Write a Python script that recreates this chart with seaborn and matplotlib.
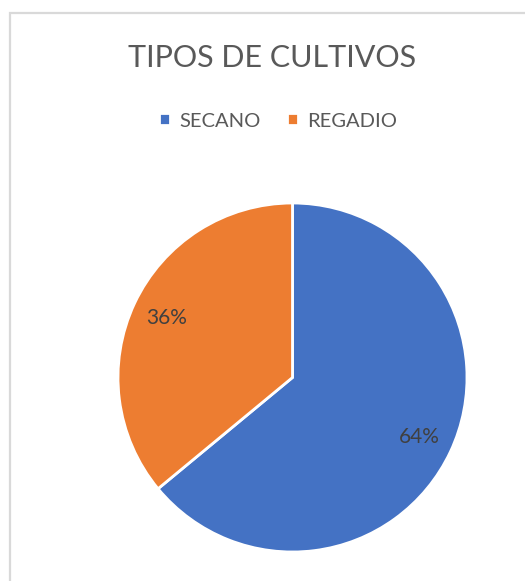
import matplotlib
matplotlib.use("Agg")
import matplotlib.pyplot as plt
import seaborn as sns
from matplotlib.patches import Rectangle

# data
categories = ["SECANO", "REGADIO"]
shares = [64, 36]
colors = ["#4472C4", "#ED7D31"]

sns.set_theme(style="white")
plt.rcParams["font.family"] = ["Lato", "DejaVu Sans"]

fig = plt.figure(figsize=(5.25, 5.81), dpi=100)

# light grey chart border (only left and top edges visible in the crop)
fig.patches.append(Rectangle((10 / 525, -0.2), 1.2, 1.2 - 13 / 581,
                             transform=fig.transFigure, fill=False,
                             edgecolor="#D9D9D9", linewidth=1.6))

ax = fig.add_axes([118 / 525, 29 / 581, 349 / 525, 349 / 581])
wedges, texts, autotexts = ax.pie(
    shares, colors=colors, startangle=90, counterclock=False,
    autopct="%1.0f%%", pctdistance=0.8,
    wedgeprops=dict(edgecolor="white", linewidth=2),
    textprops=dict(color="#404040", fontsize=15))
ax.set_xlim(-1, 1)
ax.set_ylim(-1, 1)
ax.set_aspect("equal")
ax.axis("off")

fig.text(272 / 525, 1 - 58 / 581, "TIPOS DE CULTIVOS", ha="center", va="center",
         fontsize=22, color="#595959")

fig.legend(wedges, categories, loc="center", bbox_to_anchor=(278 / 525, 1 - 121 / 581),
           ncol=2, frameon=False, fontsize=14.5, labelcolor="#595959",
           handlelength=0.55, handleheight=0.55, handletextpad=0.45, columnspacing=1.3)

fig.savefig("out.png", dpi=100)
